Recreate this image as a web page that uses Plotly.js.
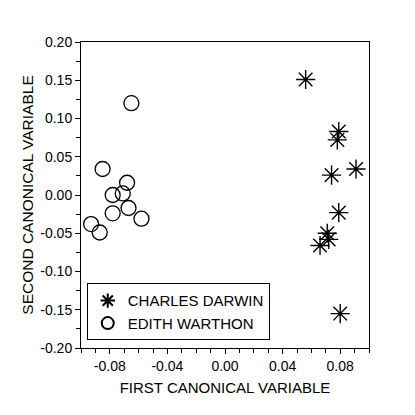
<!DOCTYPE html>
<html>
<head>
<meta charset="utf-8">
<script src="https://cdn.plot.ly/plotly-3.0.1.min.js"></script>
<style>
  html, body { margin: 0; padding: 0; background: #fff; }
  #chart { width: 415px; height: 415px; }
</style>
</head>
<body>
<div id="chart"></div>
<script>
// Darwin (stars)
let darwinX = [0.056, 0.079, 0.078, 0.091, 0.074, 0.079, 0.071, 0.072, 0.066, 0.080];
let darwinY = [0.151, 0.083, 0.072, 0.034, 0.026, -0.023, -0.050, -0.058, -0.066, -0.155];

// Warthon (circles)
let warthonX = [-0.065, -0.085, -0.068, -0.071, -0.078, -0.067, -0.058, -0.078, -0.093, -0.087];
let warthonY = [0.120, 0.034, 0.016, 0.002, 0.000, -0.017, -0.031, -0.024, -0.038, -0.049];

let xTicks = [-0.08, -0.04, 0.00, 0.04, 0.08];
let xTickText = ['-0.08', '-0.04', '0.00', '0.04', '0.08'];
let yTicks = [-0.20, -0.15, -0.10, -0.05, 0.00, 0.05, 0.10, 0.15, 0.20];
let yTickText = ['-0.20', '-0.15', '-0.10', '-0.05', '0.00', '0.05', '0.10', '0.15', '0.20'];

let fontFam = 'Arial, "Liberation Sans", sans-serif';

var traceDarwin = {
    x: darwinX,
    y: darwinY,
    mode: 'markers',
    type: 'scatter',
    name: 'CHARLES DARWIN',
    marker: {
        symbol: 'asterisk-open',
        size: 16,
        color: '#000',
        line: { color: '#000', width: 1.4 }
    }
}

var traceWarthon = {
    x: warthonX,
    y: warthonY,
    mode: 'markers',
    type: 'scatter',
    name: 'EDITH WARTHON',
    marker: {
        symbol: 'circle-open',
        size: 15,
        color: '#000',
        line: { color: '#000', width: 1.3 }
    }
}

var layout = {
    width: 415,
    height: 415,
    margin: { l: 81, r: 46, t: 42, b: 67 },
    paper_bgcolor: '#fff',
    plot_bgcolor: '#fff',
    font: { family: fontFam, size: 14, color: '#000' },
    showlegend: true,
    legend: {
        x: 0.02, y: 0.025,
        xanchor: 'left', yanchor: 'bottom',
        bordercolor: '#000', borderwidth: 1,
        bgcolor: '#fff',
        font: { family: fontFam, size: 15, color: '#000' },
        itemsizing: 'constant',
        tracegroupgap: 0
    },
    xaxis: {
        range: [-0.10, 0.10],
        tickmode: 'array',
        tickvals: xTicks,
        ticktext: xTickText,
        ticks: 'outside', ticklen: 5, tickcolor: '#000',
        minor: { dtick: 0.01, tick0: 0, ticks: 'outside', ticklen: 4, tickcolor: '#000' },
        showgrid: false, zeroline: false,
        showline: true, linecolor: '#000', linewidth: 1, mirror: true,
        tickfont: { size: 14 },
        title: { text: 'FIRST CANONICAL VARIABLE', font: { size: 15 }, standoff: 9 }
    },
    yaxis: {
        range: [-0.20, 0.20],
        tickmode: 'array',
        tickvals: yTicks,
        ticktext: yTickText,
        ticks: 'outside', ticklen: 5, tickcolor: '#000',
        minor: { dtick: 0.025, tick0: 0, ticks: 'outside', ticklen: 4, tickcolor: '#000' },
        showgrid: false, zeroline: false,
        showline: true, linecolor: '#000', linewidth: 1, mirror: true,
        tickfont: { size: 14 },
        title: { text: 'SECOND CANONICAL VARIABLE', font: { size: 15.5 }, standoff: 2 }
    }
}

Plotly.newPlot('chart', [traceDarwin, traceWarthon], layout, { staticPlot: true, displayModeBar: false });
</script>
</body>
</html>
